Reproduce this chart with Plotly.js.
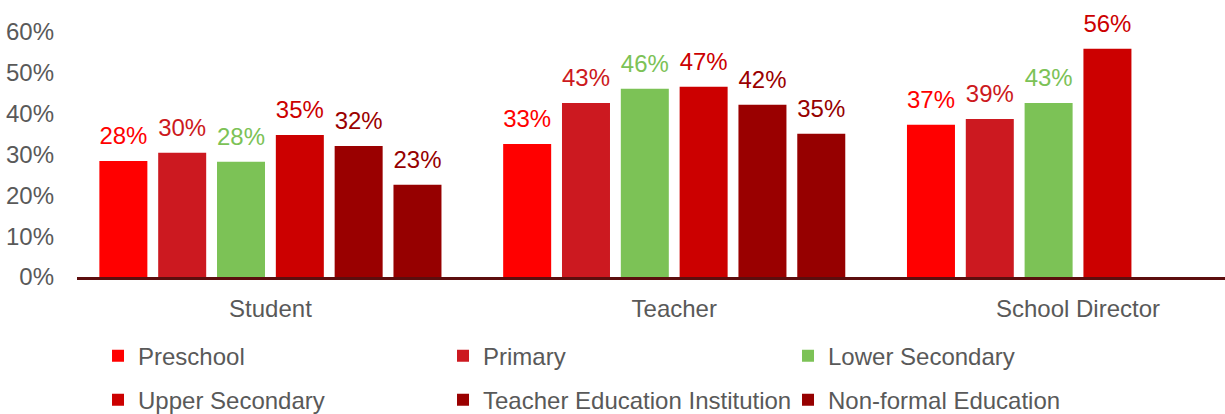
<!DOCTYPE html>
<html>
<head>
<meta charset="utf-8">
<script src="https://cdn.plot.ly/plotly-3.0.1.min.js"></script>
<style>html,body{margin:0;padding:0;background:#fff;}#chart{width:1225px;height:414px;}</style>
</head>
<body>
<div id="chart"></div>
<script>
const categories = ['Student', 'Teacher', 'School Director'];
const seriesNames = ['Preschool', 'Primary', 'Lower Secondary', 'Upper Secondary', 'Teacher Education Institution', 'Non-formal Education'];
const preschool = [0.284, 0.326, 0.373];
const primary = [0.304, 0.426, 0.387];
const lowerSecondary = [0.282, 0.461, 0.426];
const upperSecondary = [0.348, 0.466, 0.559];
const teacherEducation = [0.321, 0.422, null];
const nonFormal = [0.226, 0.351, null];
const seriesColors = ['#FF0000', '#CC1920', '#7CC256', '#CC0000', '#9A0000', '#960000'];

const seriesValues = [preschool, primary, lowerSecondary, upperSecondary, teacherEducation, nonFormal];
const FONT = 'Liberation Sans, Arial, sans-serif';
const TEXT_GRAY = '#595959';
const LABEL_PAD = 0.022;

const traces = [];
seriesValues.forEach((vals, i) => {
  traces.push({
    type: 'bar',
    name: seriesNames[i],
    x: categories,
    y: vals,
    offsetgroup: 'g' + i,
    marker: {color: seriesColors[i]},
    legend: i < 3 ? 'legend' : 'legend2',
    hoverinfo: 'skip'
  });
});
seriesValues.forEach((vals, i) => {
  traces.push({
    type: 'bar',
    name: seriesNames[i] + ' labels',
    x: categories,
    base: vals,
    y: vals.map(v => v == null ? null : LABEL_PAD),
    text: vals.map(v => v == null ? '' : Math.round(v * 100) + '%'),
    textposition: 'outside',
    textfont: {family: FONT, size: 24, color: seriesColors[i]},
    cliponaxis: false,
    offsetgroup: 'g' + i,
    marker: {color: 'rgba(0,0,0,0)'},
    showlegend: false,
    hoverinfo: 'skip'
  });
});

const legendBase = {
  orientation: 'h',
  xanchor: 'left',
  yanchor: 'top',
  entrywidth: 300,
  entrywidthmode: 'pixels',
  font: {family: FONT, size: 24, color: TEXT_GRAY},
  bgcolor: 'rgba(0,0,0,0)',
  traceorder: 'normal'
};

const layout = {
  width: 1225,
  height: 414,
  margin: {l: 77, r: 0, t: 32, b: 137, pad: 0, autoexpand: false},
  paper_bgcolor: '#ffffff',
  plot_bgcolor: '#ffffff',
  barmode: 'group',
  bargap: 0.126,
  bargroupgap: 0.184,
  font: {family: FONT, size: 24, color: TEXT_GRAY},
  xaxis: {
    type: 'category',
    range: [-0.479, 2.364],
    showline: true,
    linecolor: '#5C0E0E',
    linewidth: 2.5,
    ticks: '',
    showgrid: false,
    zeroline: false,
    tickfont: {family: FONT, size: 24, color: TEXT_GRAY},
    ticklabelstandoff: 9,
    fixedrange: true
  },
  yaxis: {
    range: [0, 0.6],
    dtick: 0.1,
    tickformat: '.0%',
    showgrid: false,
    zeroline: false,
    showline: false,
    ticks: '',
    tickfont: {family: FONT, size: 24, color: TEXT_GRAY},
    ticklabelstandoff: 22,
    fixedrange: true
  },
  legend: Object.assign({}, legendBase, {x: 0.0183, y: -0.231}),
  legend2: Object.assign({}, legendBase, {x: 0.0183, y: -0.411}),
  showlegend: true
};

Plotly.newPlot('chart', traces, layout, {staticPlot: true, displayModeBar: false});
</script>
</body>
</html>
